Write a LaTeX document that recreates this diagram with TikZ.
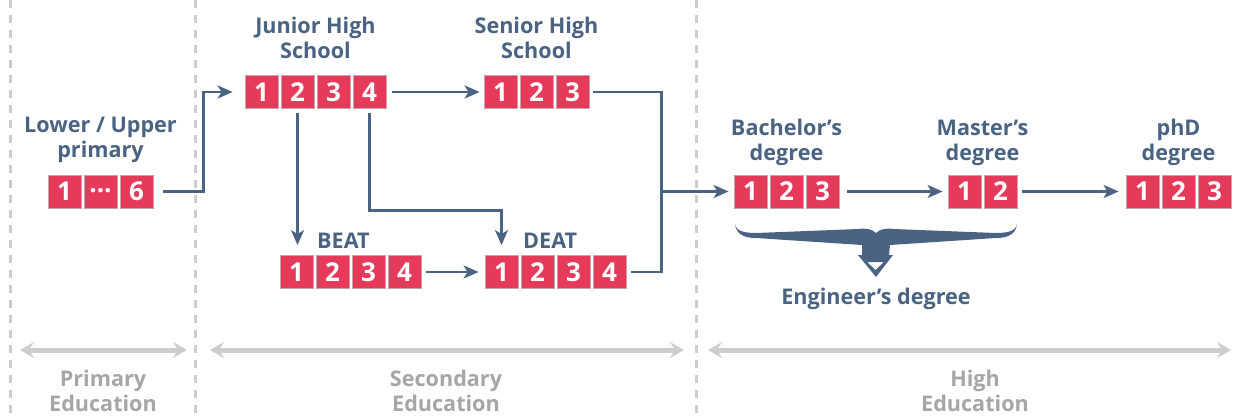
\documentclass[tikz,border=0pt]{standalone}
\usepackage{fontspec}
\setmainfont{Open Sans}
\usetikzlibrary{positioning, arrows.meta, calc}

\definecolor{yearred}{HTML}{E63A5B}
\definecolor{yearedge}{HTML}{C9A3AB}
\definecolor{slate}{HTML}{4A6382}
\definecolor{rulegray}{HTML}{CDCDCD}
\definecolor{stagegray}{HTML}{A6A6A6}

\tikzset{
  year/.style={draw=yearedge, line width=0.8pt, fill=yearred, text=white,
    minimum size=33pt, inner sep=0pt, font=\fontsize{26}{26}\selectfont\bfseries},
  title/.style={text=slate, align=center, inner sep=0pt,
    font=\fontsize{21.6}{25}\selectfont\bfseries},
  stage/.style={text=stagegray, align=center, inner sep=0pt,
    font=\fontsize{21.6}{25}\selectfont\bfseries},
  wire/.style={draw=slate, line width=2.9pt},
  link/.style={wire, -{Stealth[length=15pt,width=13pt,inset=4pt]}},
  divider/.style={draw=rulegray, line width=3pt, dash pattern=on 8pt off 7pt},
  period/.style={draw=rulegray, line width=5pt,
    {Stealth[length=14pt,width=16pt,inset=5pt]}-{Stealth[length=14pt,width=16pt,inset=5pt]}},
}

\begin{document}
\begin{tikzpicture}[x=1pt, y=-1pt]
  \useasboundingbox (0,0) rectangle (1240,416);

  % stage separators
  \foreach \x in {10,195,696}
    \draw[divider] (\x,0) -- (\x,416);

  % years
  \node[year] (pr1) at (64.5,191.5) {1};
  \node[year] (pr2) at (100.5,191.5) {\raisebox{0.1ex}{...}};
  \node[year] (pr3) at (136.5,191.5) {6};
  \foreach \i in {1,...,4} {
    \node[year] (jh\i) at ({261.5+36*(\i-1)},92) {\i};
    \node[year] (be\i) at ({296.5+36*(\i-1)},272) {\i};
    \node[year] (de\i) at ({501.5+36*(\i-1)},272) {\i};
  }
  \foreach \i in {1,...,3} {
    \node[year] (sh\i) at ({500.5+36*(\i-1)},92) {\i};
    \node[year] (ba\i) at ({750.5+36*(\i-1)},191.5) {\i};
    \node[year] (ph\i) at ({1142.5+36*(\i-1)},191.5) {\i};
  }
  \foreach \i in {1,2}
    \node[year] (ma\i) at ({964.5+36*(\i-1)},191.5) {\i};

  % titles
  \node[title] (primary) at (100.5,140) {Lower / Upper\\primary};
  \node[title] (junior) at (315.5,38) {Junior High\\School};
  \node[title] (senior) at (536.5,38) {Senior High\\School};
  \node[title, anchor=west] (beat) at (317,241) {BEAT};
  \node[title, anchor=west] (deat) at (523,241) {DEAT};
  \node[title] (bachelor) at (786.5,142.5) {Bachelor’s\\degree};
  \node[title] (master) at (982.5,142.5) {Master’s\\degree};
  \node[title] (phd) at (1178.5,142.5) {phD\\degree};
  \node[title] (engineer) at (876,299) {Engineer’s degree};

  % paths
  \draw[link] ([xshift=10pt]pr3.east) -- ([xshift=50pt]pr3.east) |- ([xshift=-12pt]jh1.west);
  \draw[link] ([xshift=6pt]jh4.east) -- ([xshift=-4pt]sh1.west);
  \draw[link] ([yshift=-4pt]jh2.south) -- ([yshift=10pt]jh2.south |- be1.north);
  \draw[link] ([yshift=-4pt]jh4.south) |- ([yshift=45pt]de1.north) -- ([yshift=10pt]de1.north);
  \draw[link] ([xshift=5pt]be4.east) -- ([xshift=-6pt]de1.west);
  \draw[wire] ([xshift=4pt]sh3.east) -| ([xshift=-72pt]ba1.west) |- ([xshift=5pt]de4.east);
  \draw[link] ([xshift=-72pt]ba1.west) -- ([xshift=-5pt]ba1.west);
  \draw[link] ([xshift=8pt]ba3.east) -- ([xshift=-5pt]ma1.west);
  \draw[link] ([xshift=5pt]ma2.east) -- ([xshift=-7pt]ph1.west);

  % brace joining bachelor and master
  \fill[slate, even odd rule]
    (735,224) .. controls (736,231) and (744,233) .. (756,233)
      -- (858,229) .. controls (866,228) and (872,229) .. (876,233)
      .. controls (880,229) and (886,228) .. (894,229)
      -- (996,233) .. controls (1008,233) and (1016,231) .. (1017,224)
      .. controls (1016,234) and (1008,238) .. (996,238)
      -- (890,245) -- (889,255) -- (893,255) -- (876,277) -- (858,255)
      -- (862,255) -- (862,245) -- (756,238)
      .. controls (744,238) and (736,234) .. (735,224) -- cycle
    (867,262) -- (884,262) -- (875.5,270) -- cycle;

  % stages
  \draw[period] (20,350) -- (187,350);
  \draw[period] (210,350) -- (684,350);
  \draw[period] (708,350) -- (1231,350);
  \node[stage] (prim) at (103,390.5) {Primary\\Education};
  \node[stage] (sec) at (446,390.5) {Secondary\\Education};
  \node[stage] (high) at (975,390.5) {High\\Education};
\end{tikzpicture}
\end{document}
